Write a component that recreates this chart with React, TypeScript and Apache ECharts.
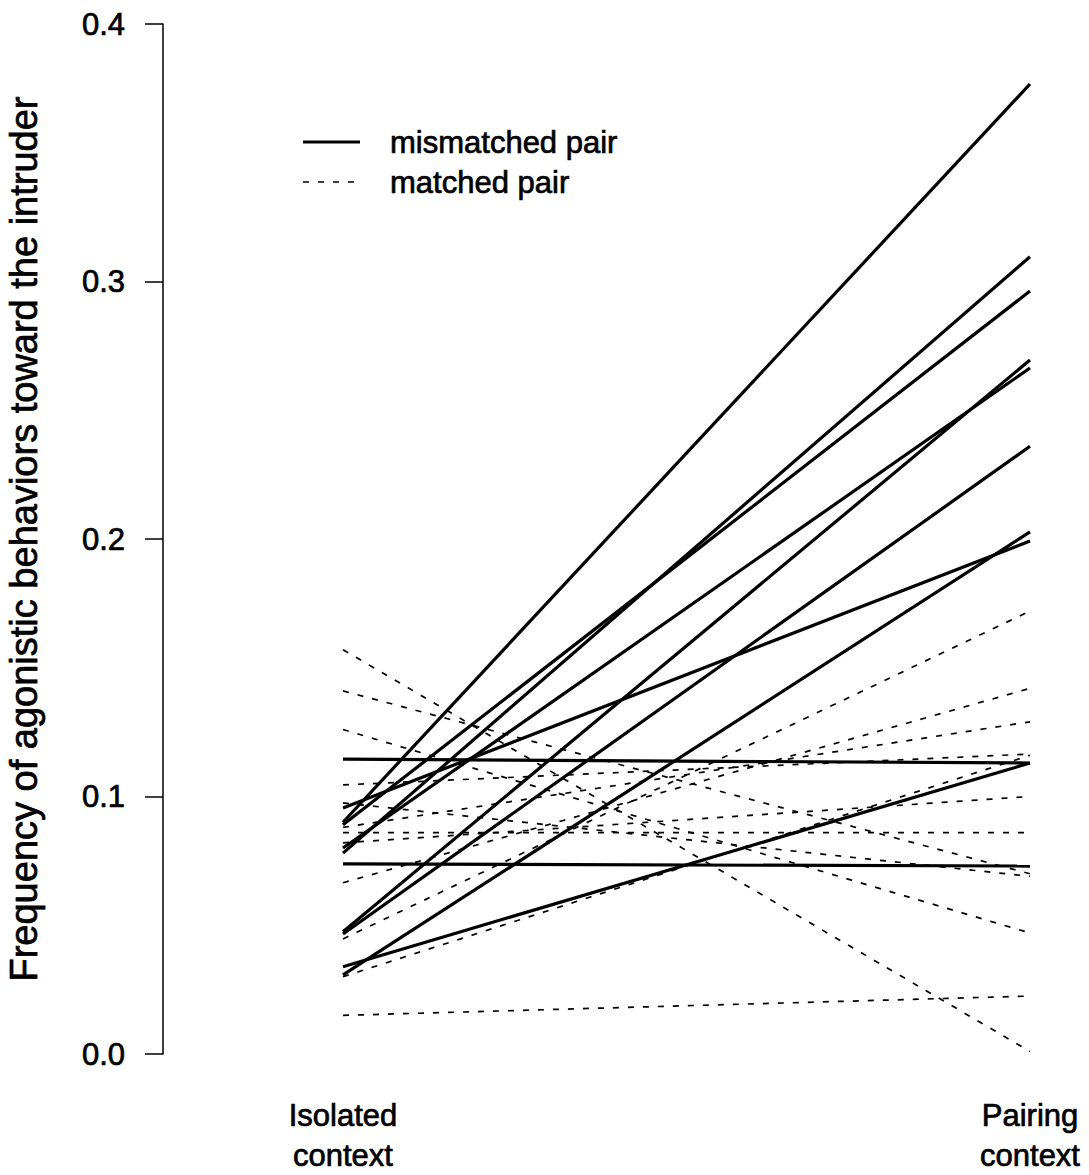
import React, { useEffect, useRef } from "react";
import * as echarts from "echarts";

const categories = ["Isolated\ncontext", "Pairing\ncontext"];

const mismatchedIsolated = [0.090, 0.089, 0.078, 0.080, 0.0475, 0.0466, 0.0307, 0.0955, 0.1145, 0.0339, 0.0738];
const mismatchedPairing = [0.3767, 0.2963, 0.3096, 0.2664, 0.2695, 0.236, 0.2028, 0.1992, 0.113, 0.113, 0.073];

const matchedIsolated = [0.157, 0.141, 0.126, 0.015, 0.0665, 0.0447, 0.088, 0.1045, 0.030, 0.0975, 0.086, 0.082];
const matchedPairing = [0.001, 0.070, 0.047, 0.0225, 0.142, 0.172, 0.129, 0.1165, 0.116, 0.069, 0.086, 0.100];

const legendLabels = ["mismatched pair", "matched pair"];
const yTitle = "Frequency of agonistic behaviors toward the intruder";

const FONT = "'Liberation Sans', Arial, Helvetica, sans-serif";
const heavy = { textBorderColor: "#000", textBorderWidth: 0.7 };

export default function App() {
  const ref = useRef<HTMLDivElement>(null);
  useEffect(() => {
    if (!ref.current) return;
    const chart = echarts.init(ref.current, null, { renderer: "svg" });
    const series: any[] = [];
    mismatchedIsolated.forEach((v, i) => {
      series.push({
        type: "line",
        name: legendLabels[0],
        data: [[1, v], [2, mismatchedPairing[i]]],
        showSymbol: false,
        symbol: "none",
        silent: true,
        z: 3,
        lineStyle: { color: "#000", width: 3.2, type: "solid" },
      });
    });
    matchedIsolated.forEach((v, i) => {
      series.push({
        type: "line",
        name: legendLabels[1],
        data: [[1, v], [2, matchedPairing[i]]],
        showSymbol: false,
        symbol: "none",
        silent: true,
        z: 2,
        lineStyle: { color: "#000", width: 1.7, type: [6, 9] },
      });
    });
    chart.setOption({
      animation: false,
      backgroundColor: "#fff",
      grid: { left: 163, right: 59, top: 24, bottom: 121, containLabel: false, outerBoundsMode: "none" },
      xAxis: {
        type: "value",
        min: 0.738,
        max: 2,
        show: false,
      },
      yAxis: {
        type: "value",
        min: 0,
        max: 0.4,
        interval: 0.1,
        name: yTitle,
        nameLocation: "middle",
        nameGap: 120,
        nameTextStyle: { fontSize: 38, color: "#000", fontFamily: FONT, ...heavy },
        axisLine: { show: true, lineStyle: { color: "#000", width: 1.5 } },
        axisTick: { show: true, inside: false, length: 18, lineStyle: { color: "#000", width: 1.5 } },
        axisLabel: {
          fontSize: 31,
          color: "#000",
          fontFamily: FONT,
          margin: 38,
          ...heavy,
          formatter: (v: number) => v.toFixed(1),
        },
        splitLine: { show: false },
      },
      series,
    });
    const p1 = chart.convertToPixel({ gridIndex: 0 }, [1, 0]) as number[];
    const p2 = chart.convertToPixel({ gridIndex: 0 }, [2, 0]) as number[];
    const xs = [p1[0], p2[0]];
    const baseY = p1[1];
    const txt = (text: string, extra: any) => ({
      text,
      fontSize: 31,
      fontFamily: FONT,
      fill: "#000",
      stroke: "#000",
      lineWidth: 0.7,
      ...extra,
    });
    const graphic: any[] = categories.map((c, i) => ({
      type: "text",
      x: xs[i],
      y: baseY + 41,
      style: txt(c, { align: "center", verticalAlign: "top", lineHeight: 40 }),
    }));
    graphic.push(
      { type: "line", shape: { x1: 303, y1: 142, x2: 360, y2: 142 }, style: { stroke: "#000", lineWidth: 3.2 } },
      { type: "line", shape: { x1: 303, y1: 182, x2: 360, y2: 182 }, style: { stroke: "#000", lineWidth: 1.7, lineDash: [6, 9] } },
      { type: "text", x: 390, y: 142, style: txt(legendLabels[0], { verticalAlign: "middle" }) },
      { type: "text", x: 390, y: 182, style: txt(legendLabels[1], { verticalAlign: "middle" }) }
    );
    chart.setOption({ graphic });
    return () => chart.dispose();
  }, []);
  return (
    <div
      ref={ref}
      style={{ position: "fixed", left: 0, top: 0, width: 1089, height: 1175, background: "#fff" }}
    />
  );
}
